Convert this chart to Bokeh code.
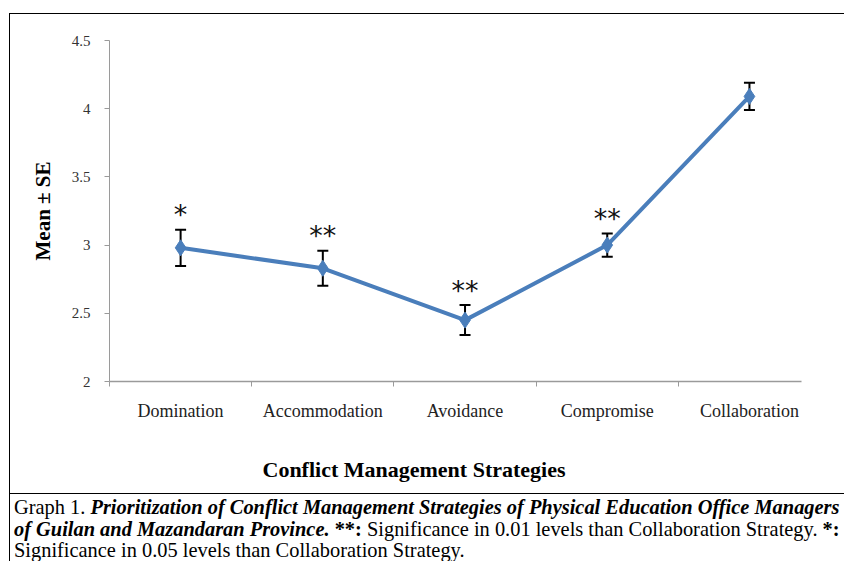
from bokeh.plotting import figure
from bokeh.models import (ColumnDataSource, FixedTicker, NumeralTickFormatter, Whisker,
                          TeeHead, Title, Div, Range1d)
from bokeh.layouts import column
from bokeh.core.properties import value
from bokeh.embed import file_html
from bokeh.resources import INLINE

# ---- data ----
categories = ["Domination", "Accommodation", "Avoidance", "Compromise", "Collaboration"]
means = [2.98, 2.83, 2.45, 3.00, 4.09]
se = [0.133, 0.128, 0.11, 0.085, 0.10]
significance = ["*", "**", "**", "**", ""]
y_ticks = [2, 2.5, 3, 3.5, 4, 4.5]

xs = list(range(len(categories)))
src = ColumnDataSource(dict(
    x=xs, mean=means,
    upper=[m + s for m, s in zip(means, se)],
    lower=[m - s for m, s in zip(means, se)],
    sig=significance,
))

BLUE = "#4a7ebb"
GREY = "#9a9a9a"
SERIF = "Liberation Serif"

p = figure(frame_width=691, frame_height=340,
           x_range=Range1d(-0.5, 4.366), y_range=Range1d(2, 4.5),
           output_backend="svg", toolbar_location=None,
           min_border_left=99, min_border_right=44, min_border_top=26, min_border_bottom=135)
p.margin = (13, 0, 0, 9)
p.styles = {"border-top": "1px solid black", "border-left": "1px solid black"}
p.outline_line_color = None
p.xgrid.visible = False
p.ygrid.visible = False
p.background_fill_color = "white"
p.border_fill_color = "white"

# y axis
p.yaxis.ticker = FixedTicker(ticks=y_ticks)
p.yaxis.formatter = NumeralTickFormatter(format="0.[0]")
p.yaxis.axis_line_color = GREY
p.yaxis.major_tick_line_color = GREY
p.yaxis.major_tick_out = 5
p.yaxis.major_tick_in = 0
p.yaxis.minor_tick_line_color = None
p.yaxis.major_label_text_font = SERIF
p.yaxis.major_label_text_font_size = "15px"
p.yaxis.major_label_text_color = "#333333"
p.yaxis.major_label_standoff = 14
p.yaxis.axis_label = "Mean ± SE"
p.yaxis.axis_label_text_font = SERIF
p.yaxis.axis_label_text_font_style = "bold"
p.yaxis.axis_label_text_font_size = "21px"
p.yaxis.axis_label_text_color = "black"
p.yaxis.axis_label_standoff = 14

# x axis (categories at centres, tick marks between them)
p.xaxis.ticker = FixedTicker(ticks=xs, minor_ticks=[i - 0.5 for i in xs])
p.xaxis.major_label_overrides = {i: c for i, c in zip(xs, categories)}
p.xaxis.axis_line_color = GREY
p.xaxis.axis_line_width = 1.5
p.xaxis.major_tick_line_color = None
p.xaxis.major_tick_out = 0
p.xaxis.major_tick_in = 0
p.xaxis.minor_tick_line_color = GREY
p.xaxis.minor_tick_out = 5
p.xaxis.minor_tick_in = 0
p.xaxis.major_label_text_font = SERIF
p.xaxis.major_label_text_font_size = "18px"
p.xaxis.major_label_text_color = "#222222"
p.xaxis.major_label_standoff = 14

# x axis title, placed below the axis, a little left of centre as in the source
p.add_layout(Title(text="Conflict Management Strategies", align="left", offset=153,
                   standoff=62, text_font=SERIF, text_font_style="bold",
                   text_font_size="22px", text_color="black"), "below")

# error bars
w = Whisker(base="x", upper="upper", lower="lower", source=src,
            line_color="black", line_width=2, level="underlay",
            upper_head=TeeHead(size=11, line_color="black", line_width=2),
            lower_head=TeeHead(size=11, line_color="black", line_width=2))
p.add_layout(w)

p.line("x", "mean", source=src, line_color=BLUE, line_width=4)
p.scatter("x", "mean", source=src, marker="diamond", size=16,
          fill_color=BLUE, line_color=BLUE)

p.text("x", "upper", text="sig", source=src, text_align="center",
       text_baseline="alphabetic", y_offset=-15,
       text_font=value("DejaVu Sans"), text_font_size="27px",
       text_color="#111111")

caption = Div(
    text=('<div style="font-family:\'Liberation Serif\';font-size:20.4px;line-height:21.5px;'
          'color:#000;white-space:nowrap;padding:3px 0 0 4px;">'
          'Graph 1. <b><i>Prioritization of Conflict Management Strategies of Physical Education Office Managers<br>'
          'of Guilan and Mazandaran Province.</i></b> <b>**:</b> Significance in 0.01 levels than Collaboration Strategy. <b>*:</b><br>'
          'Significance in 0.05 levels than Collaboration Strategy.</div>'),
    width=835, height=68,
    styles={"border-top": "1px solid black", "border-left": "1px solid black",
            "overflow": "hidden", "position": "relative", "z-index": "5",
            "background-color": "white"},
)
caption.margin = (-22, 0, 0, 9)

layout = column(p, caption, spacing=0)
open("out.html", "w").write(file_html(layout, INLINE))
